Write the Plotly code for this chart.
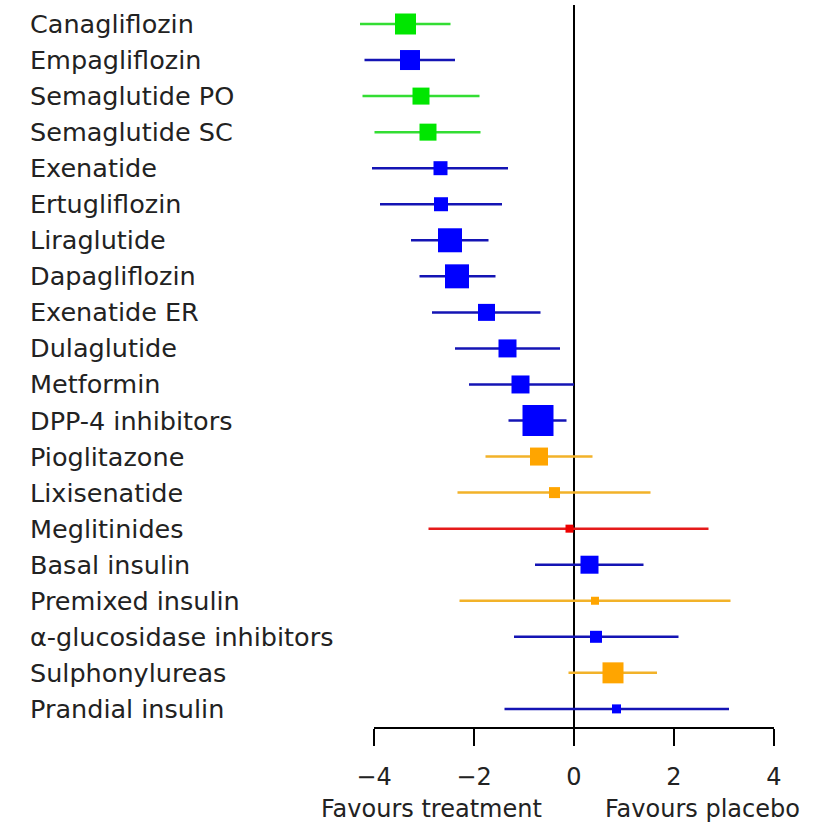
import plotly.graph_objects as go

drugs = ["Canagliflozin", "Empagliflozin", "Semaglutide PO", "Semaglutide SC", "Exenatide",
         "Ertugliflozin", "Liraglutide", "Dapagliflozin", "Exenatide ER", "Dulaglutide",
         "Metformin", "DPP-4 inhibitors", "Pioglitazone", "Lixisenatide", "Meglitinides",
         "Basal insulin", "Premixed insulin", "α-glucosidase inhibitors", "Sulphonylureas",
         "Prandial insulin"]
estimate = [-3.37, -3.28, -3.06, -2.92, -2.67, -2.66, -2.48, -2.34, -1.75, -1.33,
            -1.07, -0.72, -0.70, -0.39, -0.09, 0.31, 0.42, 0.44, 0.78, 0.85]
lower = [-4.28, -4.19, -4.23, -3.99, -4.04, -3.88, -3.26, -3.09, -2.84, -2.38,
         -2.10, -1.31, -1.77, -2.33, -2.91, -0.78, -2.29, -1.20, -0.11, -1.39]
upper = [-2.47, -2.38, -1.89, -1.87, -1.32, -1.44, -1.71, -1.57, -0.67, -0.28,
         0.00, -0.15, 0.37, 1.53, 2.69, 1.39, 3.13, 2.09, 1.66, 3.10]
weight = [21, 20, 17, 17, 14, 14, 24, 24, 17, 18, 18, 31, 18, 11, 8, 18, 8, 12, 21, 9]
group = ["green", "blue", "green", "green", "blue", "blue", "blue", "blue", "blue", "blue",
         "blue", "blue", "orange", "orange", "red", "blue", "orange", "blue", "orange", "blue"]
xticks = [-4, -2, 0, 2, 4]
xticklabels = ["−4", "−2", "0", "2", "4"]
xlabels = ["Favours treatment", "Favours placebo"]

styles = {
    "green": ("#00e600", "#33dd33"),
    "blue": ("#0000ff", "#1414b4"),
    "orange": ("#ffa500", "#f2b229"),
    "red": ("#ee0000", "#e51a1a"),
}

FONT = "DejaVu Sans, Arial, sans-serif"
FS = 25.5
FS2 = 24
TXT = "#222222"

fig = go.Figure()
for g, (mcol, lcol) in styles.items():
    idx = [i for i, gg in enumerate(group) if gg == g]
    fig.add_trace(go.Scatter(
        x=[estimate[i] for i in idx],
        y=[i for i in idx],
        mode="markers",
        cliponaxis=False,
        marker=dict(symbol="square", size=[weight[i] for i in idx], color=mcol,
                    opacity=1, line=dict(width=0)),
        error_x=dict(type="data", symmetric=False,
                     array=[upper[i] - estimate[i] for i in idx],
                     arrayminus=[estimate[i] - lower[i] for i in idx],
                     color=lcol, thickness=2.5, width=0),
        showlegend=False,
        hoverinfo="skip",
    ))

for i, d in enumerate(drugs):
    fig.add_annotation(x=-0.7133, xref="paper", y=i, yref="y", text=d,
                       showarrow=False, xanchor="left", yanchor="middle",
                       font=dict(family=FONT, size=FS, color=TXT))

fig.add_annotation(x=-2.86, xref="x", y=-0.112, yref="paper", text=xlabels[0],
                   showarrow=False, xanchor="center", yanchor="middle",
                   font=dict(family=FONT, size=FS2, color=TXT))
fig.add_annotation(x=2.57, xref="x", y=-0.112, yref="paper", text=xlabels[1],
                   showarrow=False, xanchor="center", yanchor="middle",
                   font=dict(family=FONT, size=FS2, color=TXT))

# axis line spanning first to last tick only
fig.add_shape(type="line", xref="x", yref="paper", x0=xticks[0], x1=xticks[-1],
              y0=0, y1=0, line=dict(color="black", width=2), layer="above")

fig.update_layout(
    width=818, height=833,
    margin=dict(l=349, r=19, t=5, b=105),
    plot_bgcolor="white", paper_bgcolor="white",
    font=dict(family=FONT, size=FS, color=TXT),
    xaxis=dict(range=[-4.5, 4.5], tickvals=xticks, ticktext=xticklabels,
               showgrid=False, zeroline=True, zerolinecolor="black", zerolinewidth=2,
               showline=False,
               ticks="outside", ticklen=17, tickwidth=2, tickcolor="black",
               ticklabelstandoff=10, tickfont=dict(family=FONT, size=FS2, color=TXT)),
    yaxis=dict(range=[19.53, -0.527], showgrid=False, zeroline=False,
               showticklabels=False, showline=False, ticks=""),
)

fig.write_html("out.html")
